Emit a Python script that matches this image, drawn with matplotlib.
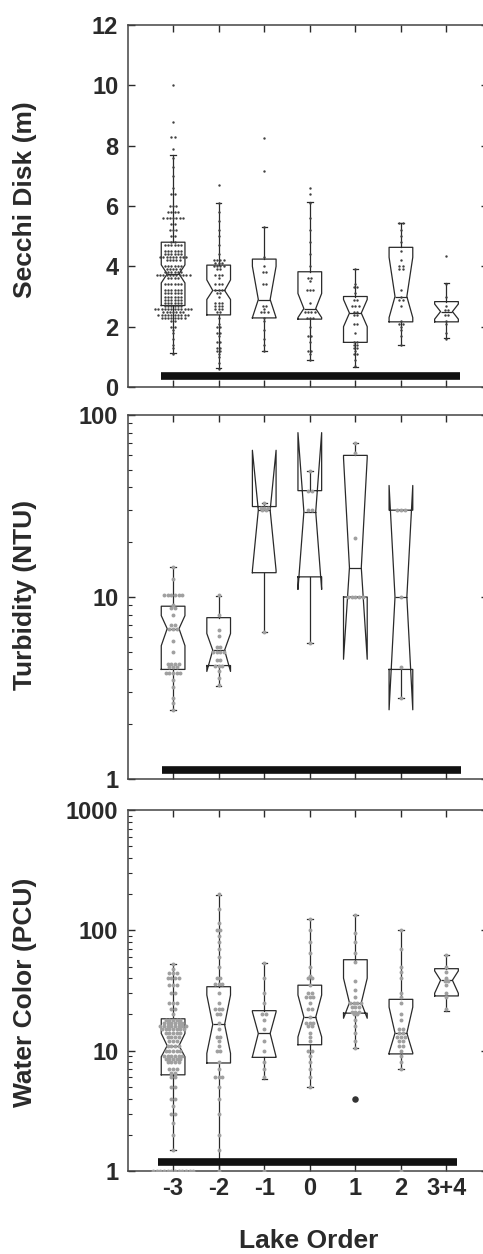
import numpy as np
import matplotlib.pyplot as plt

plt.rcParams['font.family'] = ['Liberation Sans', 'DejaVu Sans']
plt.rcParams['font.weight'] = 'bold'

orders = ['-3', '-2', '-1', '0', '1', '2', '3+4']

# box stats (median, notch, quartiles, whisker ends)
secchi_med  = [3.75, 3.2, 2.9, 2.6, 2.45, 3.0, 2.5]
secchi_cilo = [3.45, 2.9, 2.3, 2.3, 2.0, 2.3, 2.25]
secchi_cihi = [4.05, 3.55, 4.0, 3.1, 2.9, 4.3, 2.75]
secchi_q1   = [2.7, 2.39, 2.29, 2.25, 1.48, 2.16, 2.16]
secchi_q3   = [4.8, 4.04, 4.24, 3.82, 3.0, 4.63, 2.83]
secchi_lo   = [1.12, 0.62, 1.2, 0.9, 0.67, 1.39, 1.62]
secchi_hi   = [7.7, 6.1, 5.3, 6.12, 3.9, 5.45, 3.44]

# no turbidity data for 3+4
turb_med  = [6.7, 5.1, 30, 29.4, 14.5, 10]
turb_cilo = [5.4, 3.9, 14, 11.0, 4.55, 2.4]
turb_cihi = [7.9, 6.3, 64, 80, 58, 41]
turb_q1   = [4.0, 4.2, 13.6, 12.9, 10, 4.0]
turb_q3   = [8.9, 7.7, 31.4, 38.4, 60, 30]
turb_lo   = [2.4, 3.24, 6.4, 5.6, 10, 2.8]
turb_hi   = [14.7, 10.1, 33, 49, 70, 30]

color_med  = [11, 16.5, 13.9, 19, 25, 14, 38.5]
color_cilo = [8.9, 9.5, 8.9, 13, 18.6, 9.6, 30]
color_cihi = [13.9, 29, 21, 29, 40, 23, 46]
color_q1   = [6.3, 7.9, 8.8, 11.2, 20.5, 9.4, 28.5]
color_q3   = [18.4, 34, 21.5, 35, 57, 26.7, 48]
color_lo   = [1.5, 1.0, 5.8, 5.0, 10.5, 7.1, 21.5]
color_hi   = [53, 197, 54, 124, 133, 100, 62.5]

# individual lakes as (value, how many lakes at that value)
secchi_pts = [
    [(10.0, 1), (8.8, 1), (8.3, 2), (7.9, 1), (7.6, 1), (7.3, 1), (7.0, 1), (6.6, 1), (6.4, 2), (6.0, 3),
     (5.8, 4), (5.6, 7), (5.4, 2), (5.2, 3), (5.0, 2), (4.8, 2), (4.7, 6), (4.5, 6), (4.4, 6), (4.3, 9),
     (4.2, 5), (4.0, 6), (3.9, 5), (3.8, 6), (3.7, 11), (3.6, 4), (3.4, 6), (3.2, 6), (3.1, 6), (3.0, 6),
     (2.9, 6), (2.8, 6), (2.7, 6), (2.6, 12), (2.5, 7), (2.4, 10), (2.3, 8), (2.2, 2), (2.0, 2), (1.9, 1),
     (1.8, 1), (1.6, 1), (1.4, 1), (1.3, 1), (1.1, 1)],
    [(6.7, 1), (6.1, 1), (5.8, 1), (5.5, 1), (5.2, 1), (5.0, 1), (4.7, 1), (4.4, 1), (4.2, 4), (4.1, 3),
     (4.0, 4), (3.9, 2), (3.7, 3), (3.6, 1), (3.4, 3), (3.2, 3), (3.1, 2), (3.0, 1), (2.8, 3), (2.7, 3),
     (2.6, 3), (2.5, 2), (2.3, 1), (2.1, 1), (2.0, 2), (1.8, 2), (1.7, 1), (1.5, 2), (1.3, 2), (1.2, 2),
     (1.1, 1), (1.0, 1), (0.8, 1), (0.6, 1)],
    [(8.25, 1), (7.15, 1), (5.3, 1), (4.3, 1), (4.0, 1), (3.8, 2), (3.4, 2), (2.7, 2), (2.6, 1), (2.5, 3),
     (2.3, 1), (2.2, 1), (1.9, 1), (1.6, 1), (1.4, 1), (1.2, 1)],
    [(6.6, 1), (6.4, 1), (6.1, 1), (5.6, 1), (5.2, 1), (4.8, 1), (4.4, 1), (4.0, 1), (3.6, 2), (3.5, 1),
     (3.2, 3), (2.8, 1), (2.5, 4), (2.3, 3), (2.0, 1), (1.7, 2), (1.5, 1), (1.2, 2), (1.1, 1), (0.9, 1)],
    [(3.9, 1), (3.4, 1), (3.3, 2), (3.1, 1), (2.9, 2), (2.7, 3), (2.5, 2), (2.4, 2), (2.1, 2), (1.8, 1),
     (1.5, 2), (1.4, 2), (1.3, 2), (1.2, 1), (1.1, 2), (0.9, 1), (0.7, 1)],
    [(5.45, 2), (5.2, 1), (5.0, 1), (4.8, 1), (4.5, 1), (4.2, 1), (4.0, 2), (3.9, 2), (3.2, 1), (3.0, 1),
     (2.9, 2), (2.7, 1), (2.2, 1), (2.1, 2), (2.0, 1), (1.9, 1), (1.7, 1), (1.4, 1)],
    [(4.35, 1), (3.4, 1), (3.0, 1), (2.7, 1), (2.55, 2), (2.4, 2), (2.2, 1), (2.1, 1), (1.8, 1), (1.6, 1)],
]

turb_pts = [
    [(14.7, 1), (12.5, 1), (10.2, 6), (9.0, 1), (8.7, 2), (8.0, 1), (7.0, 2), (6.7, 3), (5.7, 1), (5.0, 1),
     (4.3, 4), (4.1, 3), (3.8, 5), (3.5, 1), (3.2, 1), (2.8, 1), (2.6, 1), (2.4, 1)],
    [(10.2, 1), (8.0, 1), (6.6, 1), (6.1, 1), (5.3, 2), (5.0, 4), (4.5, 2), (4.2, 3), (3.9, 1), (3.6, 1), (3.3, 1)],
    [(33, 1), (31, 3), (30, 2), (6.4, 1)],
    [(49, 1), (38, 2), (30, 2), (5.6, 1)],
    [(70, 1), (62, 1), (21, 1), (10, 5)],
    [(30, 3), (10, 1), (4.1, 1), (2.8, 1)],
]

color_pts = [
    [(53, 1), (48, 1), (44, 3), (40, 4), (35, 3), (30, 2), (25, 3), (22, 2), (20, 1), (18, 5), (17, 6),
     (16, 8), (15, 7), (14, 5), (13, 4), (12, 3), (11, 4), (10, 5), (9, 6), (8.5, 5), (8, 4), (7, 3),
     (6.5, 2), (6, 2), (5, 2), (4, 2), (3.5, 1), (3, 2), (2.5, 1), (2, 1), (1.5, 1), (1.0, 12)],
    [(200, 1), (150, 1), (115, 1), (100, 2), (90, 1), (80, 1), (70, 1), (60, 1), (50, 1), (40, 2), (36, 3),
     (30, 1), (25, 1), (22, 3), (20, 2), (17, 1), (15, 1), (13, 2), (12, 1), (11, 1), (10, 2), (8, 1),
     (7, 1), (6, 3), (5, 1), (4, 1), (3, 1), (2, 1), (1.5, 1), (1.0, 1)],
    [(54, 1), (40, 1), (30, 1), (25, 1), (20, 2), (18, 1), (15, 1), (12, 1), (10, 1), (8, 1), (7, 1), (6, 1), (1.0, 1)],
    [(124, 1), (100, 1), (80, 1), (65, 1), (50, 1), (42, 1), (40, 2), (35, 1), (30, 2), (28, 3), (25, 1),
     (22, 2), (19, 1), (17, 3), (16, 2), (14, 1), (13, 1), (12, 1), (10, 2), (9, 1), (8, 1), (7, 1), (6, 1), (5, 1)],
    [(133, 1), (95, 1), (80, 1), (65, 1), (55, 1), (38, 1), (32, 1), (28, 1), (25, 4), (23, 3), (21, 3),
     (20, 2), (18, 1), (16, 1), (14, 1), (12, 1), (10.5, 1)],
    [(100, 1), (70, 1), (50, 1), (45, 1), (40, 1), (30, 1), (28, 1), (25, 1), (20, 1), (18, 1), (15, 2),
     (14, 2), (13, 3), (12, 2), (11, 2), (10, 1), (9, 1), (8, 1), (7.1, 1), (1.0, 1)],
    [(62, 1), (50, 1), (45, 1), (40, 1), (38, 2), (35, 1), (30, 1), (28, 1), (22, 1)],
]
color_outlier = [(4, 4.0)]  # (group index, value) – the big dot below order 1

# thick bars along the bottom of each panel (no significant difference)
bar_y  = [0.35, 1.116, 1.18]
bar_x0 = [-0.26, -0.24, -0.33]
bar_x1 = [6.29, 6.32, 6.24]

ylabels = ['Secchi Disk (m)', 'Turbidity (NTU)', 'Water Color (PCU)']

ink = '#2a2a2a'
W, H = 483, 1254
fig = plt.figure(figsize=(W / 100, H / 100), dpi=100)

left, right = 128, 487.5
rows = [(25, 387), (415, 779), (810, 1171)]
axes = []
for top, bot in rows:
    axes.append(fig.add_axes([left / W, 1 - bot / H, (right - left) / W, (bot - top) / H]))


def make_stats(med, cilo, cihi, q1, q3, lo, hi):
    out = []
    for i in range(len(med)):
        out.append(dict(med=med[i], cilo=cilo[i], cihi=cihi[i], q1=q1[i], q3=q3[i],
                        whislo=lo[i], whishi=hi[i], fliers=[]))
    return out


def draw_dots(ax, pts, dx, size, col):
    for i, grp in enumerate(pts):
        for v, n in grp:
            xs = i + (np.arange(n) - (n - 1) / 2) * dx
            ax.scatter(xs, [v] * n, s=size, color=col, linewidths=0, zorder=3)


panels = [
    (make_stats(secchi_med, secchi_cilo, secchi_cihi, secchi_q1, secchi_q3, secchi_lo, secchi_hi),
     secchi_pts, 0.072, 3, '#404040'),
    (make_stats(turb_med, turb_cilo, turb_cihi, turb_q1, turb_q3, turb_lo, turb_hi),
     turb_pts, 0.08, 8, '#a0a0a0'),
    (make_stats(color_med, color_cilo, color_cihi, color_q1, color_q3, color_lo, color_hi),
     color_pts, 0.08, 8, '#a0a0a0'),
]

lp = dict(color=ink, linewidth=0.9)
for k, ax in enumerate(axes):
    stats, pts, dx, size, col = panels[k]
    draw_dots(ax, pts, dx, size, col)
    ax.bxp(stats, positions=range(len(stats)), widths=0.52, shownotches=True,
           showfliers=False, boxprops=lp, whiskerprops=lp, capprops=lp,
           medianprops=lp, capwidths=0.12, manage_ticks=False)
    ax.hlines(bar_y[k], bar_x0[k], bar_x1[k], color='#111111', linewidth=5.5,
              capstyle='butt', zorder=4)

    ax.set_xlim(-0.99, 6.9)
    ax.set_xticks(range(len(orders)))
    ax.tick_params(which='both', direction='in', top=True, right=True,
                   colors=ink, labelsize=17)
    ax.tick_params(which='major', length=5, width=1)
    ax.tick_params(which='minor', length=3, width=0.8)
    ax.tick_params(axis='y', pad=7)
    ax.tick_params(axis='x', pad=4)
    ax.xaxis.set_minor_locator(plt.NullLocator())
    for s in ax.spines.values():
        s.set_color('#444444')
        s.set_linewidth(1.1)
    if k < 2:
        ax.tick_params(labelbottom=False)

axes[0].set_ylim(0, 12)
axes[0].set_yticks([0, 2, 4, 6, 8, 10, 12])
axes[0].set_yticklabels(['0', '2', '4', '6', '8', '10', '12'])

axes[1].set_yscale('log')
axes[1].set_ylim(1, 100)
axes[1].set_yticks([1, 10, 100])
axes[1].set_yticklabels(['1', '10', '100'])

axes[2].set_yscale('log')
axes[2].set_ylim(1, 1000)
axes[2].set_yticks([1, 10, 100, 1000])
axes[2].set_yticklabels(['1', '10', '100', '1000'])
gi, gv = color_outlier[0]
axes[2].scatter([gi], [gv], s=22, color='#333333', linewidths=0, zorder=3)
axes[2].set_xticklabels(orders)

for ax in axes[1:]:
    ax.yaxis.set_minor_formatter(plt.NullFormatter())

label_y = [200, 595, 992]
for txt, yc in zip(ylabels, label_y):
    fig.text(25 / W, 1 - yc / H, txt, rotation=90, ha='center', va='center',
             fontsize=19, color=ink)
fig.text(309 / W, 1 - 1241 / H, 'Lake Order', ha='center', va='center',
         fontsize=19, color=ink)

fig.savefig('out.png', dpi=100)
